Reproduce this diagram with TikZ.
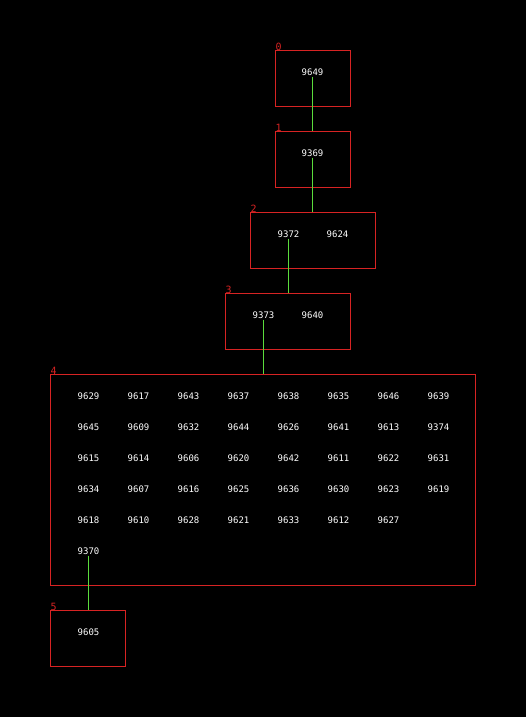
\documentclass[tikz,border=0pt]{standalone}
\usepackage{fontspec}
\newfontfamily\monofont{DejaVu Sans Mono}
\definecolor{boxred}{RGB}{215,35,35}
\definecolor{edgegreen}{RGB}{90,220,60}
\begin{document}
\begin{tikzpicture}[x=1pt,y=-1pt,
  grp/.style={draw=boxred,line width=1.4pt,minimum height=56pt,inner sep=0pt},
  item/.style={text=white,font=\monofont\fontsize{9}{9}\selectfont,inner sep=0.5pt},
  glabel/.style={text=boxred,font=\monofont\fontsize{10}{10}\selectfont,inner sep=0pt,anchor=south west},
  edge/.style={draw=edgegreen,line width=1.4pt}]
\fill[black] (0,0) rectangle (526,717);
\useasboundingbox (0,0) rectangle (526,717);
\begin{scope}[shift={(0.5,0.5)}]
% groups
\node[grp,minimum width=75pt] (b0) at (312.5,78) {};
\node[grp,minimum width=75pt] (b1) at (312.5,159) {};
\node[grp,minimum width=125pt] (b2) at (312.5,240) {};
\node[grp,minimum width=125pt] (b3) at (287.5,321) {};
\node[grp,minimum width=425pt,minimum height=211pt] (b4) at (262.5,479.5) {};
\node[grp,minimum width=75pt] (b5) at (87.5,638) {};
% group labels
\node[glabel] (l0) at (275,50) {0};
\node[glabel] (l1) at (275,131) {1};
\node[glabel] (l2) at (250,212) {2};
\node[glabel] (l3) at (225,293) {3};
\node[glabel] (l4) at (50,374) {4};
\node[glabel] (l5) at (50,610) {5};
% items
\node[item] (t9649) at (312,72) {9649};
\node[item] (t9369) at (312,153) {9369};
\node[item] (t9372) at (288,234) {9372};
\node[item] (t9624) at (337,234) {9624};
\node[item] (t9373) at (263,315) {9373};
\node[item] (t9640) at (312,315) {9640};
\foreach \name [count=\i from 0] in {9629,9617,9643,9637,9638,9635,9646,9639}
  \node[item] (t\name) at ({88+\i*50},396) {\name};
\foreach \name [count=\i from 0] in {9645,9609,9632,9644,9626,9641,9613,9374}
  \node[item] (t\name) at ({88+\i*50},427) {\name};
\foreach \name [count=\i from 0] in {9615,9614,9606,9620,9642,9611,9622,9631}
  \node[item] (t\name) at ({88+\i*50},458) {\name};
\foreach \name [count=\i from 0] in {9634,9607,9616,9625,9636,9630,9623,9619}
  \node[item] (t\name) at ({88+\i*50},489) {\name};
\foreach \name [count=\i from 0] in {9618,9610,9628,9621,9633,9612,9627}
  \node[item] (t\name) at ({88+\i*50},520) {\name};
\node[item] (t9370) at (88,551) {9370};
\node[item] (t9605) at (88,632) {9605};
% edges
\draw[edge] (t9649.south) -- (t9649.south |- b1.north);
\draw[edge] (t9369.south) -- (t9369.south |- b2.north);
\draw[edge] (t9372.south) -- (t9372.south |- b3.north);
\draw[edge] (t9373.south) -- (t9373.south |- b4.north);
\draw[edge] (t9370.south) -- (t9370.south |- b5.north);
\end{scope}
\end{tikzpicture}
\end{document}
